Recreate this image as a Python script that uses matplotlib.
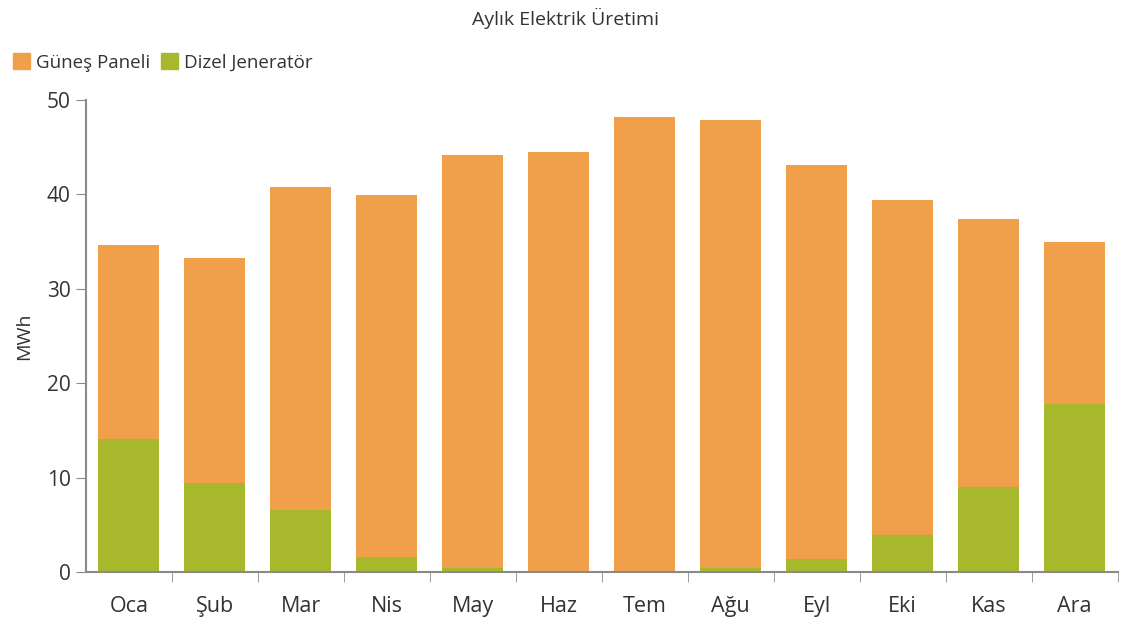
import numpy as np
import matplotlib.pyplot as plt
from matplotlib.patches import Patch

plt.rcParams["font.family"] = ["Open Sans", "DejaVu Sans"]

MONTHS = ["Oca", "Şub", "Mar", "Nis", "May", "Haz", "Tem", "Ağu", "Eyl", "Eki", "Kas", "Ara"]
DIESEL = [14.1, 9.4, 6.6, 1.6, 0.4, 0.0, 0.0, 0.4, 1.4, 3.9, 9.0, 17.8]
TOTAL = [34.6, 33.2, 40.8, 39.9, 44.1, 44.5, 48.2, 47.8, 43.1, 39.4, 37.4, 34.9]
SOLAR = [t - d for t, d in zip(TOTAL, DIESEL)]

ORANGE = "#F0A04B"
GREEN = "#A8B82C"
AXIS = "#8a8a8a"
TEXT = "#333333"


def main():
    fig = plt.figure(figsize=(11.3, 6.24), dpi=100)
    ax = fig.add_axes([0.076, 0.0833, 0.913, 0.757])
    x = np.arange(len(MONTHS))

    ax.bar(x, DIESEL, width=0.71, color=GREEN, label="Dizel Jeneratör")
    ax.bar(x, SOLAR, width=0.71, bottom=DIESEL, color=ORANGE, label="Güneş Paneli")

    ax.set_xlim(-0.5, len(MONTHS) - 0.5)
    ax.set_ylim(0, 50)
    ax.set_yticks(range(0, 51, 10))
    ax.set_xticks(x)
    ax.set_xticklabels(MONTHS)
    ax.set_xticks(np.arange(0.5, len(MONTHS) - 0.4, 1), minor=True)
    ax.tick_params(axis="x", which="major", length=0, pad=17, labelsize=15.5, labelcolor=TEXT)
    ax.tick_params(axis="x", which="minor", length=7, color=AXIS, direction="out")
    ax.tick_params(axis="y", length=7, color=AXIS, labelsize=15, labelcolor=TEXT, pad=4)

    for side in ["top", "right"]:
        ax.spines[side].set_visible(False)
    for side in ["left", "bottom"]:
        ax.spines[side].set_color(AXIS)
        ax.spines[side].set_linewidth(1.5)

    ax.set_ylabel("MWh", fontsize=14, color=TEXT, labelpad=10)
    fig.text(0.5, 0.97, "Aylık Elektrik Üretimi", ha="center", va="center", fontsize=14, color=TEXT)

    handles = [Patch(color=ORANGE), Patch(color=GREEN)]
    fig.legend(
        handles, ["Güneş Paneli", "Dizel Jeneratör"],
        loc="center left", bbox_to_anchor=(-0.003, 0.9),
        ncol=2, frameon=False, fontsize=13.5, handlelength=0.9, handleheight=0.9,
        handletextpad=0.3, columnspacing=0.6, labelcolor=TEXT,
    )

    fig.savefig("out.png", dpi=100)


if __name__ == "__main__":
    main()
